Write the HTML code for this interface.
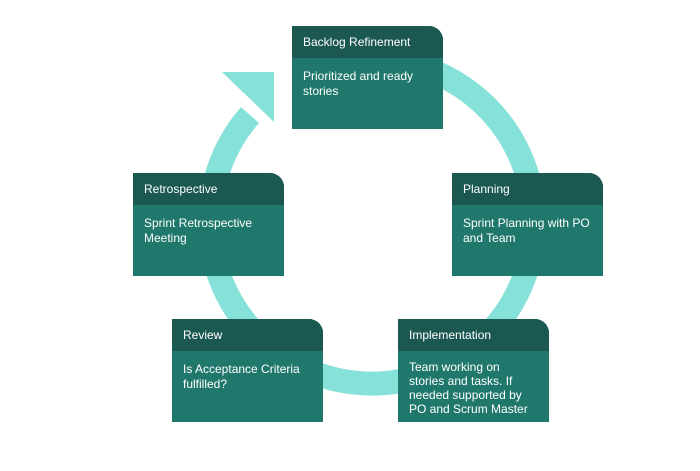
<!DOCTYPE html>
<html><head><style>
body{margin:0;width:700px;height:471px;background:#fff;position:relative;font-family:"Liberation Sans",Arial,sans-serif;overflow:hidden}
.b{position:absolute;width:151px;height:103px;background:#20786c;color:#fff;border-top-right-radius:14px;overflow:hidden}
.h{height:32px;background:#1b5852;font-size:12px;line-height:32px;padding-left:11px}
.t{font-size:12px;line-height:15px;padding:11px 11px 0 11px}
</style></head><body>
<svg width="700" height="471" style="position:absolute;left:0;top:0">
<path d="M250 115 A162 162 0 1 0 400 62" fill="none" stroke="#86e1d8" stroke-width="24"/>
<polygon points="222,72 274,72 274,122" fill="#86e1d8"/>
</svg>
<div class="b" style="left:292px;top:26px"><div class="h">Backlog Refinement</div><div class="t">Prioritized and ready stories</div></div>
<div class="b" style="left:133px;top:173px"><div class="h">Retrospective</div><div class="t">Sprint Retrospective Meeting</div></div>
<div class="b" style="left:452px;top:173px"><div class="h">Planning</div><div class="t">Sprint Planning with PO and Team</div></div>
<div class="b" style="left:172px;top:319px"><div class="h">Review</div><div class="t">Is Acceptance Criteria fulfilled?</div></div>
<div class="b" style="left:398px;top:319px"><div class="h">Implementation</div><div class="t" style="padding-top:9px;line-height:14px">Team working on stories and tasks. If needed supported by PO and Scrum Master</div></div>
</body></html>
